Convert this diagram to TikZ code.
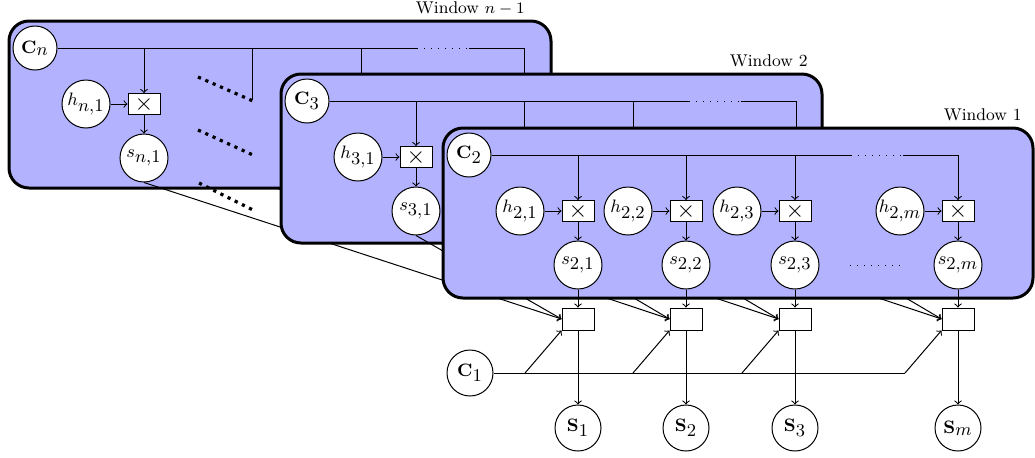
\documentclass[tikz,border=0pt]{standalone}
\DeclareMathSizes{9}{9}{9}{7}
\tikzset{
  win/.style={draw, line width=1.5pt, fill=blue!30, rounded corners=10pt},
  var/.style={circle, draw, line width=0.5pt, fill=white, minimum size=24pt, inner sep=0pt, font=\fontsize{9}{10}\selectfont},
  cvar/.style={var, minimum size=22pt},
  ovar/.style={var, minimum size=23pt},
  mult/.style={draw, line width=0.5pt, fill=white, minimum width=16pt, minimum height=10.5pt, inner sep=0pt, font=\fontsize{11.5}{12}\selectfont},
  comb/.style={draw, line width=0.5pt, fill=white, minimum width=16pt, minimum height=11pt, inner sep=0pt},
  fewdots/.style={line width=0.5pt, dash pattern=on 0.5pt off 3pt},
  bigdots/.style={line width=1.6pt, dash pattern=on 1.6pt off 2.4pt},
  winlabel/.style={anchor=east, font=\fontsize{8.5}{10}\selectfont, inner sep=0pt},
}
\begin{document}
\begin{tikzpicture}[x=0.5pt, y=-0.5pt, line width=0.5pt]
\useasboundingbox (0,0) rectangle (1035,457);

% ---------- nodes outside the windows ----------
\node[comb] (b1) at (578,319) {};
\node[comb] (b2) at (686,319) {};
\node[comb] (b3) at (795,319) {};
\node[comb] (b4) at (958,319) {};
\node[ovar] (c1) at (470,373) {$\mathbf{C}_1$};
\node[ovar] (o1) at (578,428) {$\mathbf{S}_1$};
\node[ovar] (o2) at (686,428) {$\mathbf{S}_2$};
\node[ovar] (o3) at (795,428) {$\mathbf{S}_3$};
\node[ovar] (o4) at (958,428) {$\mathbf{S}_m$};

\draw[->] (b1) -- (o1);
\draw[->] (b2) -- (o2);
\draw[->] (b3) -- (o3);
\draw[->] (b4) -- (o4);

\coordinate (k1) at (525,373);
\coordinate (k2) at (633,373);
\coordinate (k3) at (742,373);
\coordinate (k4) at (905,373);
\draw (c1) -- (k4);
\draw[->] (k4) -- (b4.south west);
\draw[->] (k1) -- (b1.south west);
\draw[->] (k2) -- (b2.south west);
\draw[->] (k3) -- (b3.south west);

% ---------- connectors from hidden columns ----------
\coordinate (sn2) at (252,180);
\coordinate (sn3) at (361,180);
\coordinate (sn4) at (524,180);
\coordinate (s32) at (524,233);
\coordinate (s33) at (633,233);
\coordinate (s34) at (796,233);
\draw[->] (sn2) -- (b2.west);
\draw[->] (sn3) -- (b3.west);
\draw[->] (sn4) -- (b4.west);
\draw[->] (s32) -- (b2.west);
\draw[->] (s33) -- (b3.west);
\draw[->] (s34) -- (b4.west);

% ---------- Window n-1 ----------
\draw[win] (9,21) rectangle (551,188);
\node[winlabel] (lwn) at (525,8) {Window $n-1$};
\node[cvar] (cn) at (35,48) {$\mathbf{C}_n$};
\node[var] (hn1) at (86,104) {$h_{n,1}$};
\node[mult] (mn1) at (144,104) {$\times$};
\node[var] (sn1) at (144,158) {$s_{n,1}$};
\coordinate (nd1) at (417,48);
\coordinate (nd2) at (469,48);
\coordinate (nt2) at (252,48);
\coordinate (ne2) at (252,100);
\coordinate (nt3) at (361,48);
\coordinate (ne3) at (361,80);
\coordinate (nt4) at (524,48);
\coordinate (ne4) at (524,80);
\draw (cn) -- (nd1);
\draw[fewdots] (nd1) -- (nd2);
\draw (nd2) -- (nt4) -- (ne4);
\draw (nt2) -- (ne2);
\draw (nt3) -- (ne3);
\draw[->] (mn1.north |- cn) -- (mn1);
\draw[->] (hn1) -- (mn1);
\draw[->] (mn1) -- (sn1);
\coordinate (da1) at (198,77);  \coordinate (db1) at (253,101);
\coordinate (da2) at (198,130); \coordinate (db2) at (253,155);
\coordinate (da3) at (199,183); \coordinate (db3) at (253,210);
\draw[bigdots] (da1) -- (db1);
\draw[bigdots] (da2) -- (db2);
\draw[bigdots] (da3) -- (db3);
\draw[->] (sn1.south) -- (b1.west);

% ---------- Window 2 ----------
\draw[win] (281,74) rectangle (822,243);
\node[winlabel] (lw2) at (808,61) {Window 2};
\node[cvar] (c3) at (307,101) {$\mathbf{C}_3$};
\node[var] (h31) at (358,157) {$h_{3,1}$};
\node[mult] (m31) at (416,157) {$\times$};
\node[var] (s31) at (416,211) {$s_{3,1}$};
\coordinate (td1) at (689,101);
\coordinate (td2) at (741,101);
\coordinate (tt2) at (524,101);
\coordinate (te2) at (524,135);
\coordinate (tt3) at (633,101);
\coordinate (te3) at (633,135);
\coordinate (tt4) at (796,101);
\coordinate (te4) at (796,135);
\draw (c3) -- (td1);
\draw[fewdots] (td1) -- (td2);
\draw (td2) -- (tt4) -- (te4);
\draw (tt2) -- (te2);
\draw (tt3) -- (te3);
\draw[->] (m31.north |- c3) -- (m31);
\draw[->] (h31) -- (m31);
\draw[->] (m31) -- (s31);
\draw[->] (s31.south) -- (b1.west);

% ---------- Window 1 ----------
\draw[win] (443,128) rectangle (1033,298);
\node[winlabel] (lw1) at (1022,115) {Window 1};
\node[cvar] (c2) at (469,155) {$\mathbf{C}_2$};
\node[var] (h21) at (520,211) {$h_{2,1}$};
\node[var] (h22) at (628,211) {$h_{2,2}$};
\node[var] (h23) at (737,211) {$h_{2,3}$};
\node[var] (h2m) at (900,211) {$h_{2,m}$};
\node[mult] (m21) at (578,211) {$\times$};
\node[mult] (m22) at (686,211) {$\times$};
\node[mult] (m23) at (795,211) {$\times$};
\node[mult] (m2m) at (958,211) {$\times$};
\node[var] (s21) at (578,265) {$s_{2,1}$};
\node[var] (s22) at (686,265) {$s_{2,2}$};
\node[var] (s23) at (795,265) {$s_{2,3}$};
\node[var] (s2m) at (958,265) {$s_{2,m}$};
\coordinate (wd1) at (851,155);
\coordinate (wd2) at (903,155);
\coordinate (wt4) at (958,155);
\draw (c2) -- (wd1);
\draw[fewdots] (wd1) -- (wd2);
\draw (wd2) -- (wt4);
\draw[->] (wt4) -- (m2m);
\draw[->] (m21.north |- c2) -- (m21);
\draw[->] (m22.north |- c2) -- (m22);
\draw[->] (m23.north |- c2) -- (m23);
\draw[->] (h21) -- (m21);
\draw[->] (h22) -- (m22);
\draw[->] (h23) -- (m23);
\draw[->] (h2m) -- (m2m);
\draw[->] (m21) -- (s21);
\draw[->] (m22) -- (s22);
\draw[->] (m23) -- (s23);
\draw[->] (m2m) -- (s2m);
\coordinate (sd1) at (850,265);
\coordinate (sd2) at (905,265);
\draw[fewdots] (sd1) -- (sd2);
\draw[->] (s21) -- (b1);
\draw[->] (s22) -- (b2);
\draw[->] (s23) -- (b3);
\draw[->] (s2m) -- (b4);
\end{tikzpicture}
\end{document}
